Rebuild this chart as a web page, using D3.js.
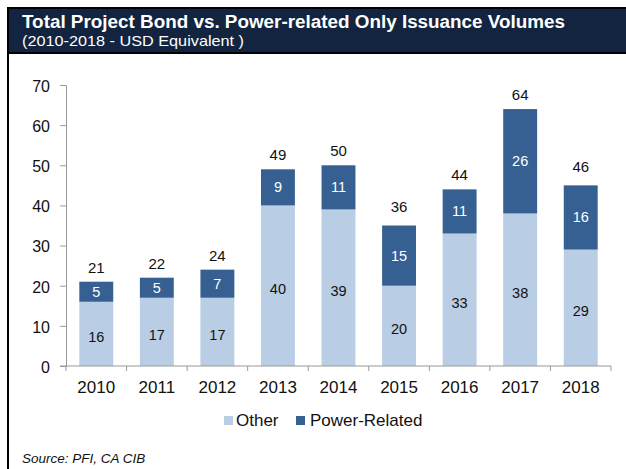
<!DOCTYPE html>
<html><head><meta charset="utf-8">
<script src="https://cdn.jsdelivr.net/npm/d3@7/dist/d3.min.js"></script>
<style>body{margin:0;background:#fff}svg{display:block;font-family:Arial,"Liberation Sans",sans-serif}</style>
</head><body>
<script>
const years = ["2010","2011","2012","2013","2014","2015","2016","2017","2018"];
const other = [16,17,17,40,39,20,33,38,29];
const power = [5,5,7,9,11,15,11,26,16];
const totals = [21,22,24,49,50,36,44,64,46];
const yTicks = [0,10,20,30,40,50,60,70];
const seriesNames = ["Other","Power-Related"];
const colors = {"Other":"#b9cde5","Power-Related":"#366092"};

const W=626,H=469;
const svg=d3.select("body").append("svg").attr("width",W).attr("height",H);

// frame/header
svg.append("rect").attr("x",7).attr("y",7).attr("width",W).attr("height",47).attr("fill","#000");
svg.append("rect").attr("x",9).attr("y",9).attr("width",W).attr("height",43).attr("fill","#12243f");
svg.append("rect").attr("x",7).attr("y",7).attr("width",2).attr("height",H).attr("fill","#000");
svg.append("text").attr("x",22).attr("y",28).attr("fill","#fff").attr("font-size",18).attr("font-weight","bold")
  .attr("textLength",543).attr("lengthAdjust","spacingAndGlyphs")
  .text("Total Project Bond vs. Power-related Only Issuance Volumes");
svg.append("text").attr("x",22).attr("y",46).attr("fill","#fff").attr("font-size",15)
  .attr("textLength",222).attr("lengthAdjust","spacingAndGlyphs")
  .text("(2010-2018 - USD Equivalent )");

const x=d3.scaleBand().domain(years).range([66,611]).paddingInner(0.44).paddingOuter(0.22);
const y=d3.scaleLinear().domain([0,70]).range([366,85]);

const data=years.map((yr,i)=>({year:yr,"Other":other[i],"Power-Related":power[i],total:totals[i]}));
const stack=d3.stack().keys(seriesNames)(data);

const g=svg.append("g");
stack.forEach(s=>{
  g.selectAll(null).data(s).enter().append("rect")
   .attr("x",d=>x(d.data.year)).attr("width",x.bandwidth())
   .attr("y",d=>y(d[1])).attr("height",d=>y(d[0])-y(d[1]))
   .attr("fill",colors[s.key]);
  g.selectAll(null).data(s).enter().append("text")
   .attr("x",d=>x(d.data.year)+x.bandwidth()/2)
   .attr("y",d=>(y(d[0])+y(d[1]))/2+(s.key==="Other"?8:5))
   .attr("text-anchor","middle").attr("font-size",14.5)
   .attr("fill",s.key==="Other"?"#111":"#fff")
   .text(d=>d.data[s.key]);
});
g.selectAll(null).data(data).enter().append("text")
 .attr("x",d=>x(d.year)+x.bandwidth()/2).attr("y",d=>y(d.total)-9)
 .attr("text-anchor","middle").attr("font-size",15).attr("fill","#111").text(d=>d.total);

// y axis
const ya=svg.append("g").attr("transform","translate(66,0)")
 .call(d3.axisLeft(y).tickValues(yTicks).tickSize(6).tickPadding(10).tickFormat(d3.format("d")));
ya.select(".domain").attr("stroke","#999");
ya.selectAll(".tick line").attr("stroke","#999");
ya.selectAll(".tick text").attr("font-size",16).attr("fill","#111").attr("dy","0.4em")
  .attr("font-family","Arial,'Liberation Sans',sans-serif");

// x axis
const xa=svg.append("g").attr("transform","translate(0,366)");
xa.append("line").attr("x1",60).attr("x2",611).attr("y1",0).attr("y2",0).attr("stroke","#999");
const step=(x.range()[1]-x.range()[0])/years.length;
const bds=d3.range(years.length+1).map(i=>x.range()[0]+i*step);
xa.selectAll(null).data(bds).enter().append("line")
 .attr("x1",d=>d).attr("x2",d=>d).attr("y1",0).attr("y2",5).attr("stroke","#999");
xa.selectAll(null).data(years).enter().append("text")
 .attr("x",d=>x(d)+x.bandwidth()/2).attr("y",27).attr("text-anchor","middle")
 .attr("font-size",17).attr("fill","#111").text(d=>d);

// legend
const leg=[{k:"Other",sx:224,tx:236},{k:"Power-Related",sx:296,tx:310}];
leg.forEach(l=>{
  svg.append("rect").attr("x",l.sx).attr("y",416).attr("width",9).attr("height",9).attr("fill",colors[l.k]);
  svg.append("text").attr("x",l.tx).attr("y",426).attr("font-size",17).attr("fill","#111").text(l.k);
});

svg.append("text").attr("x",22).attr("y",463).attr("font-size",13.5).attr("font-style","italic").attr("fill","#111").text("Source: PFI, CA CIB");
</script>
</body></html>
